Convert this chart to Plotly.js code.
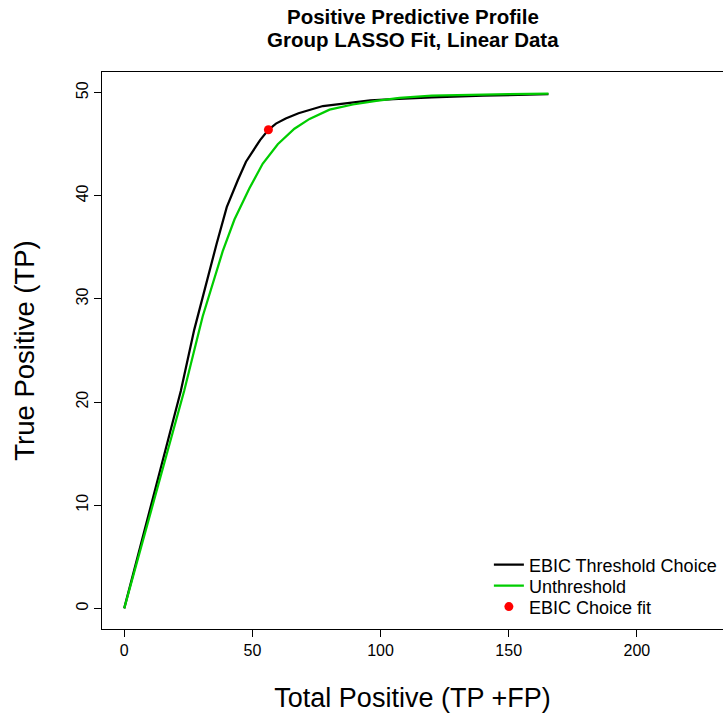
<!DOCTYPE html>
<html>
<head>
<meta charset="utf-8">
<script src="https://cdn.plot.ly/plotly-3.0.1.min.js"></script>
<style>
  html, body { margin: 0; padding: 0; background: #fff; }
  #chart { width: 723px; height: 722px; }
</style>
</head>
<body>
<div id="chart"></div>
<script>
// EBIC threshold choice curve
const ebicX = [0, 22.1, 27.3, 32.2, 36, 40, 42, 44.3, 47.5, 50.1, 53, 56.25, 59.2, 63, 68, 77.5, 87.9, 96, 107, 120, 140, 165.5];
const ebicY = [0, 21.1, 27.0, 31.8, 35.3, 38.9, 40.2, 41.5, 43.3, 44.3, 45.4, 46.4, 47.0, 47.5, 48.0, 48.7, 49.05, 49.25, 49.4, 49.55, 49.7, 49.85];
// Unthresholded curve
const unthX = [0, 23.4, 30.6, 34.9, 38.4, 43, 48.8, 54, 59.9, 66.4, 72.3, 80.1, 89.2, 98.3, 107.4, 120, 135, 150, 165.5];
const unthY = [0, 21.1, 28.3, 31.8, 34.6, 37.7, 40.7, 43.1, 45.0, 46.5, 47.45, 48.35, 48.85, 49.2, 49.5, 49.7, 49.8, 49.85, 49.9];
// EBIC chosen fit
const choiceX = [56.25];
const choiceY = [46.4];

const xTicks = [0, 50, 100, 150, 200];
const yTicks = [0, 10, 20, 30, 40, 50];

const titleLine1 = "Positive Predictive Profile";
const titleLine2 = "Group LASSO Fit, Linear Data";
const xTitle = "Total Positive (TP +FP)";
const yTitle = "True Positive (TP)";

const font = "Liberation Sans, Arial, Helvetica, sans-serif";

const traces = [
  { x: ebicX, y: ebicY, type: "scatter", mode: "lines", name: "EBIC Threshold Choice",
    line: { color: "#000000", width: 2.25 }, legend: "legend" },
  { x: unthX, y: unthY, type: "scatter", mode: "lines", name: "Unthreshold",
    line: { color: "#00CD00", width: 2.25 }, legend: "legend2" },
  { x: choiceX, y: choiceY, type: "scatter", mode: "markers", name: "EBIC Choice fit",
    marker: { color: "#FF0000", size: 9 }, legend: "legend3" }
];

function legendAt(yPaper) {
  return {
    x: 0.623, xanchor: "left", y: yPaper, yanchor: "top",
    bgcolor: "rgba(0,0,0,0)", font: { size: 18, family: font },
    itemwidth: 30, tracegroupgap: 0
  };
}

const layout = {
  width: 723, height: 722,
  margin: { l: 102, r: 0, t: 72, b: 93 },
  paper_bgcolor: "#ffffff", plot_bgcolor: "#ffffff",
  font: { family: font, color: "#000000", size: 16 },
  showlegend: true,
  legend: legendAt(0.1483),
  legend2: legendAt(0.1106),
  legend3: legendAt(0.0729),
  xaxis: {
    range: [-8.67, 233.6], tickvals: xTicks, ticktext: xTicks.map(String),
    showgrid: false, zeroline: false, showline: true, mirror: true,
    linecolor: "#000000", linewidth: 1, ticks: "outside", ticklen: 7,
    tickcolor: "#000000", tickfont: { size: 16 },
    title: { text: xTitle, font: { size: 27 }, standoff: 29 },
    automargin: false
  },
  yaxis: {
    range: [-2, 52], tickvals: yTicks, ticktext: yTicks.map(String),
    showgrid: false, zeroline: false, showline: true, mirror: false,
    linecolor: "#000000", linewidth: 1, ticks: "outside", ticklen: 7,
    tickcolor: "#000000", tickangle: -90, tickfont: { size: 16 },
    title: { text: yTitle, font: { size: 27.5 }, standoff: 30 },
    automargin: false
  },
  annotations: [
    { text: "<b>" + titleLine1 + "</b>", xref: "paper", yref: "paper", x: 0.5, y: 1.099,
      xanchor: "center", yanchor: "middle", showarrow: false, font: { size: 20.5 } },
    { text: "<b>" + titleLine2 + "</b>", xref: "paper", yref: "paper", x: 0.5, y: 1.059,
      xanchor: "center", yanchor: "middle", showarrow: false, font: { size: 20.5 } }
  ]
};

Plotly.newPlot("chart", traces, layout, { displayModeBar: false, staticPlot: true });
</script>
</body>
</html>
